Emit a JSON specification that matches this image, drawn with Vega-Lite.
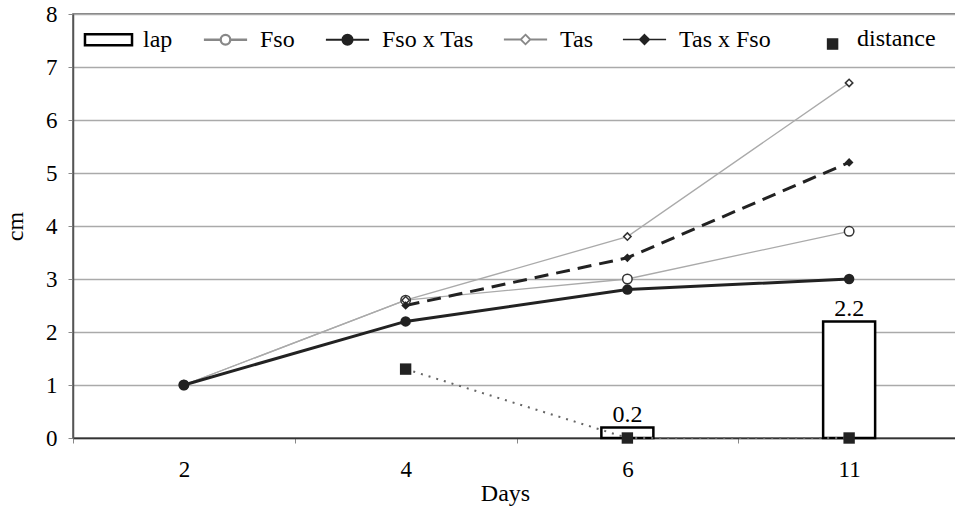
{
  "$schema": "https://vega.github.io/schema/vega-lite/v6.json",
  "width": 887,
  "height": 424,
  "autosize": {"type": "none"},
  "padding": {"left": 73, "top": 14, "right": 0, "bottom": 77},
  "background": "white",
  "config": {
    "font": "Liberation Serif",
    "view": {"stroke": "#555", "strokeWidth": 1.5},
    "axis": {
      "labelFont": "Liberation Serif",
      "labelFontSize": 23,
      "labelColor": "black",
      "titleFont": "Liberation Serif",
      "titleFontSize": 24,
      "titleFontWeight": "normal",
      "titleColor": "black",
      "tickColor": "#888",
      "tickSize": 5
    }
  },
  "data": {
    "values": [
      {"day": "6", "series": "lap", "value": 0.2},
      {"day": "11", "series": "lap", "value": 2.2},
      {"day": "2", "series": "Fso", "value": 1.0},
      {"day": "4", "series": "Fso", "value": 2.6},
      {"day": "6", "series": "Fso", "value": 3.0},
      {"day": "11", "series": "Fso", "value": 3.9},
      {"day": "2", "series": "Tas", "value": 1.0},
      {"day": "4", "series": "Tas", "value": 2.6},
      {"day": "6", "series": "Tas", "value": 3.8},
      {"day": "11", "series": "Tas", "value": 6.7},
      {"day": "4", "series": "Tas x Fso", "value": 2.5},
      {"day": "6", "series": "Tas x Fso", "value": 3.4},
      {"day": "11", "series": "Tas x Fso", "value": 5.2},
      {"day": "2", "series": "Fso x Tas", "value": 1.0},
      {"day": "4", "series": "Fso x Tas", "value": 2.2},
      {"day": "6", "series": "Fso x Tas", "value": 2.8},
      {"day": "11", "series": "Fso x Tas", "value": 3.0},
      {"day": "4", "series": "distance", "value": 1.3},
      {"day": "6", "series": "distance", "value": 0.0},
      {"day": "11", "series": "distance", "value": 0.0}
    ]
  },
  "encoding": {
    "x": {
      "field": "day",
      "type": "nominal",
      "sort": ["2", "4", "6", "11"],
      "scale": {"domain": ["2", "4", "6", "11"], "paddingInner": 0, "paddingOuter": 0},
      "axis": {
        "title": "Days",
        "titleX": 432,
        "labelAngle": 0,
        "tickBand": "extent",
        "domainColor": "#333",
        "domainWidth": 1.5,
        "labelPadding": 15,
        "titlePadding": 0
      }
    },
    "y": {
      "field": "value",
      "type": "quantitative",
      "scale": {"domain": [0, 8], "nice": false},
      "axis": {
        "title": "cm",
        "values": [0, 1, 2, 3, 4, 5, 6, 7, 8],
        "grid": true,
        "gridColor": "#aaa",
        "gridWidth": 1.5,
        "domainColor": "#555",
        "domainWidth": 1.5,
        "labelPadding": 11,
        "titlePadding": 18
      }
    }
  },
  "layer": [
    {
      "transform": [{"filter": "datum.series === 'lap'"}],
      "mark": {"type": "bar", "size": 52, "fill": "white", "stroke": "black", "strokeWidth": 2.5}
    },
    {
      "transform": [{"filter": "datum.series === 'lap'"}],
      "mark": {"type": "text", "baseline": "alphabetic", "dy": -5, "fontSize": 24, "font": "Liberation Serif", "color": "black"},
      "encoding": {"text": {"field": "value", "type": "quantitative", "format": ".1f"}}
    },
    {
      "transform": [{"filter": "datum.series === 'Fso' || datum.series === 'Tas'"}],
      "mark": {"type": "line", "stroke": "#aaa", "strokeWidth": 1.3},
      "encoding": {"detail": {"field": "series"}}
    },
    {
      "transform": [{"filter": "datum.series === 'distance'"}],
      "mark": {"type": "line", "stroke": "#666", "strokeWidth": 2, "strokeDash": [2, 6]},
      "encoding": {}
    },
    {
      "transform": [{"filter": "datum.series === 'Tas x Fso'"}],
      "mark": {"type": "line", "stroke": "#222", "strokeWidth": 3, "strokeDash": [14, 8]},
      "encoding": {}
    },
    {
      "transform": [{"filter": "datum.series === 'Fso x Tas'"}],
      "mark": {"type": "line", "stroke": "#222", "strokeWidth": 3},
      "encoding": {}
    },
    {
      "transform": [{"filter": "datum.series === 'Fso'"}],
      "mark": {"type": "point", "shape": "circle", "filled": true, "fill": "white", "stroke": "#333", "strokeWidth": 1.5, "size": 90, "opacity": 1},
      "encoding": {}
    },
    {
      "transform": [{"filter": "datum.series === 'Tas'"}],
      "mark": {"type": "point", "shape": "diamond", "filled": true, "fill": "white", "stroke": "#333", "strokeWidth": 1.5, "size": 55, "opacity": 1},
      "encoding": {}
    },
    {
      "transform": [{"filter": "datum.series === 'distance'"}],
      "mark": {"type": "point", "shape": "square", "filled": true, "color": "#222", "size": 130, "opacity": 1},
      "encoding": {}
    },
    {
      "transform": [{"filter": "datum.series === 'Tas x Fso'"}],
      "mark": {"type": "point", "shape": "diamond", "filled": true, "color": "#222", "size": 75, "opacity": 1},
      "encoding": {}
    },
    {
      "transform": [{"filter": "datum.series === 'Fso x Tas'"}],
      "mark": {"type": "point", "shape": "circle", "filled": true, "color": "#222", "size": 110, "opacity": 1},
      "encoding": {}
    },
    {
      "mark": {"type": "point", "filled": true, "opacity": 0},
      "encoding": {
        "shape": {
          "field": "series",
          "type": "nominal",
          "scale": {
            "domain": ["lap", "Fso", "Fso x Tas", "Tas", "Tas x Fso", "distance"],
            "range": [
              "M-0.98,-0.23H0.98V0.23H-0.98Z",
              "M-0.9,0H-0.2M0.2,0H0.9M0.2,0A0.2,0.2,0,1,1,-0.2,0A0.2,0.2,0,1,1,0.2,0",
              "M-0.9,0H0.9M0.21,0A0.21,0.21,0,1,1,-0.21,0A0.21,0.21,0,1,1,0.21,0",
              "M-0.9,0H-0.2M0.2,0H0.9M0,-0.2L0.2,0L0,0.2L-0.2,0Z",
              "M-0.9,0H0.9M0,-0.2L0.2,0L0,0.2L-0.2,0Z",
              "M0.21,0H0.63V0.42H0.21Z"
            ]
          },
          "legend": {
            "title": null,
            "orient": "none",
            "legendX": 10,
            "legendY": 0,
            "direction": "horizontal",
            "columns": 6,
            "symbolSize": 2304,
            "symbolOpacity": 1,
            "labelFont": "Liberation Serif",
            "labelFontSize": 24,
            "labelColor": "black",
            "labelOffset": 9,
            "columnPadding": 26,
            "padding": 0
          }
        },
        "fill": {
          "field": "series",
          "type": "nominal",
          "scale": {"domain": ["lap", "Fso", "Fso x Tas", "Tas", "Tas x Fso", "distance"], "range": ["white", "white", "#222", "white", "#222", "#222"]}
        },
        "stroke": {
          "field": "series",
          "type": "nominal",
          "scale": {"domain": ["lap", "Fso", "Fso x Tas", "Tas", "Tas x Fso", "distance"], "range": ["black", "#888", "#222", "#888", "#222", "#222"]}
        },
        "strokeWidth": {
          "field": "series",
          "type": "nominal",
          "scale": {"domain": ["lap", "Fso", "Fso x Tas", "Tas", "Tas x Fso", "distance"], "range": [2.5, 1.4, 2.5, 1.4, 2.5, 0.5]}
        }
      }
    }
  ]
}
